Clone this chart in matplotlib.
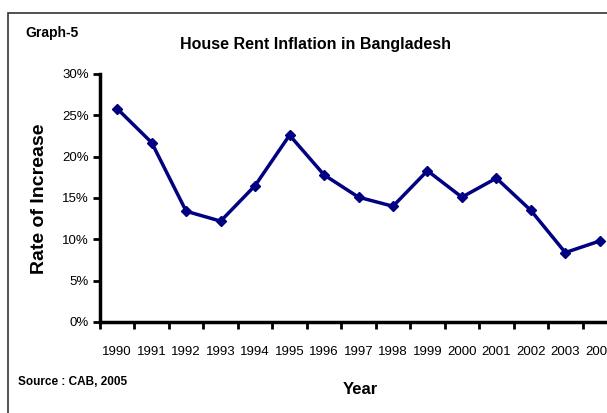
import matplotlib
matplotlib.use("Agg")
import matplotlib.pyplot as plt
from matplotlib.patches import Rectangle

# --- Data ---
years = ["1990", "1991", "1992", "1993", "1994", "1995", "1996", "1997",
         "1998", "1999", "2000", "2001", "2002", "2003", "2004"]
rent_increase = [25.8, 21.7, 13.4, 12.2, 16.5, 22.6, 17.8, 15.1,
                 14.0, 18.3, 15.1, 17.4, 13.5, 8.4, 9.8]

plt.rcParams['font.family'] = ['Liberation Sans', 'DejaVu Sans']

W, H = 607, 413
fig = plt.figure(figsize=(W / 100, H / 100), dpi=100)

# outer frame of the exported chart (runs off the right/bottom edge)
fig.patches.append(Rectangle((8 / W, -0.05), 1.2, (H - 13) / H + 0.05,
                             transform=fig.transFigure, fill=False,
                             edgecolor='#333333', linewidth=1.2))

# axes extend a bit beyond the right edge, like the cropped original
ax = fig.add_axes([100 / W, 91 / H, 517 / W, 248 / H])

x = [i + 0.5 for i in range(len(years))]
ax.plot(x, rent_increase, color='#000080', linewidth=2.5, marker='D',
        markersize=5.5, markeredgewidth=1)

ax.set_xlim(0, len(years))
ax.set_ylim(0, 30)
ax.set_yticks(range(0, 31, 5))
ax.set_yticklabels([f"{v}%" for v in range(0, 31, 5)], fontsize=9.5)

ax.set_xticks(range(len(years) + 1))
ax.set_xticklabels([])
ax.set_xticks(x, minor=True)
ax.set_xticklabels(years, minor=True, fontsize=9.5)
ax.tick_params(axis='x', which='minor', length=0, pad=17)
ax.tick_params(axis='x', which='major', length=5, width=2, direction='out')
ax.tick_params(axis='y', length=5, width=2, direction='out', pad=3)

for side in ['top', 'right']:
    ax.spines[side].set_visible(False)
for side in ['left', 'bottom']:
    ax.spines[side].set_linewidth(2.5)

fig.text(315 / W, 1 - 45 / H, "House Rent Inflation in Bangladesh",
         ha='center', va='center', fontsize=11.5, fontweight='bold')
fig.text(25 / W, 1 - 33 / H, "Graph-5", ha='left', va='center',
         fontsize=10, fontweight='bold')
fig.text(40 / W, 1 - 199 / H, "Rate of Increase", ha='center', va='center',
         rotation=90, fontsize=14, fontweight='bold')
fig.text(360 / W, 1 - 389 / H, "Year", ha='center', va='center',
         fontsize=12, fontweight='bold')
fig.text(18 / W, 1 - 382 / H, "Source : CAB, 2005", ha='left', va='center',
         fontsize=8.5, fontweight='bold')

fig.savefig("out.png", dpi=100)
